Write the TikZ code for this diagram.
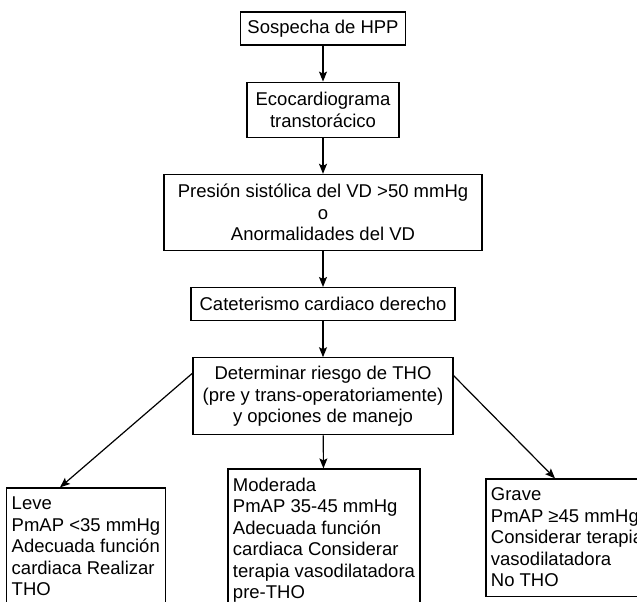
\documentclass[tikz,border=0pt]{standalone}
\usepackage{fontspec}
\setmainfont{Liberation Sans}
\usetikzlibrary{arrows.meta, positioning}
\tikzstyle{stepbox} = [rectangle, draw=black, line width=1.2pt, align=center, inner sep=4pt, font=\fontsize{18.5}{21.5}\selectfont]
\tikzstyle{outcome} = [rectangle, draw=black, line width=1.2pt, align=left, inner xsep=5pt, inner ysep=9pt, font=\fontsize{18.5}{21.5}\selectfont]
\tikzstyle{arrow} = [line width=1.2pt,-{Stealth[length=10pt,width=8pt,inset=2pt]}]

\begin{document}
\begin{tikzpicture}[node distance=36pt]
\useasboundingbox (0,0) rectangle (637pt,-602pt);
\clip (0,0) rectangle (637pt,-602pt);

% Nodes
\node (sospecha) [stepbox, minimum width=165pt, minimum height=33pt] at (323pt,-28.5pt) {Sospecha de HPP};
\node (eco) [stepbox, below=of sospecha, minimum width=152pt, minimum height=55pt] {Ecocardiograma\\transtorácico};
\node (presion) [stepbox, below=of eco, minimum width=318pt, minimum height=76pt] {Presión sistólica del VD >50 mmHg\\o\\Anormalidades del VD};
\node (cateter) [stepbox, below=of presion, minimum width=264pt, minimum height=33pt] {Cateterismo cardiaco derecho};
\node (riesgo) [stepbox, below=of cateter, minimum width=260pt, minimum height=77pt] {Determinar riesgo de THO\\(pre y trans-operatoriamente)\\y opciones de manejo};
\node (leve) [outcome, below=52pt of riesgo, xshift=-237pt, text depth=40pt] {Leve\\PmAP <35 mmHg\\Adecuada función\\cardiaca Realizar\\THO};
\node (moderada) [outcome, below=33pt of riesgo, xshift=1pt, text depth=40pt] {Moderada\\PmAP 35-45 mmHg\\Adecuada función\\cardiaca Considerar\\terapia vasodilatadora\\pre-THO};
\node (grave) [outcome, below=43pt of riesgo, xshift=244pt] {Grave\\PmAP ≥45 mmHg\\Considerar terapia\\vasodilatadora\\No THO};

% Arrows
\draw [arrow] (sospecha) -- (eco);
\draw [arrow] (eco) -- (presion);
\draw [arrow] (presion) -- (cateter);
\draw [arrow] (cateter) -- (riesgo);
\draw [arrow] (riesgo.170) -- ([xshift=-26pt]leve.north);
\draw [arrow] (riesgo) -- (moderada);
\draw [arrow] (riesgo.9) -- ([xshift=-12pt]grave.north);

\end{tikzpicture}
\end{document}
